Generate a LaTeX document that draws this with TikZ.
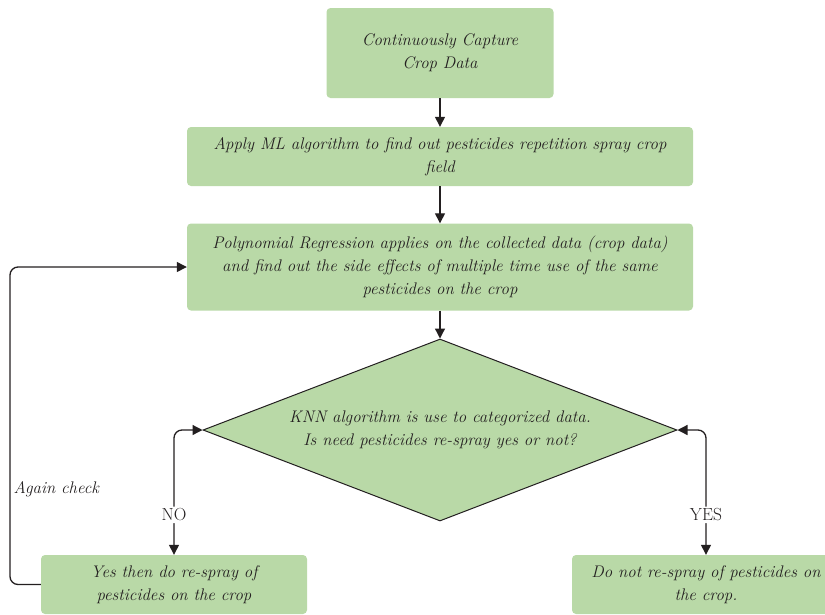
\documentclass[tikz,border=0pt]{standalone}
\usetikzlibrary{shapes.geometric}
\usetikzlibrary{arrows.meta}

\definecolor{leaf}{HTML}{B9D9A7}
\definecolor{ink}{HTML}{231F20}

\tikzset{
  stepbox/.style={rectangle, rounded corners=4pt, fill=leaf, text=ink, align=center,
    inner sep=0pt, font=\fontsize{16.8}{23}\selectfont\itshape},
  choice/.style={diamond, shape aspect=2.6, draw=ink, line width=1pt, fill=leaf, text=ink,
    align=center, inner sep=0pt, font=\fontsize{16.8}{23}\selectfont\itshape},
  flow/.style={draw=ink, line width=1.3pt, rounded corners=8pt,
    -{Triangle[length=10pt,width=10pt]}},
  twoway/.style={flow, {Triangle[length=10pt,width=10pt]}-{Triangle[length=10pt,width=10pt]}},
  tag/.style={fill=white, text=ink, inner sep=2pt, font=\fontsize{17.5}{18}\selectfont},
}

\begin{document}
\begin{tikzpicture}[x=1pt,y=-1pt]
\useasboundingbox (0,0) rectangle (825,614);
\node[stepbox, minimum width=227pt, minimum height=90pt] (capture) at (440,53) {Continuously Capture\\Crop Data};
\node[stepbox, minimum width=506pt, minimum height=59pt] (ml) at (440,156.5) {Apply ML algorithm to find out pesticides repetition spray crop\\field};
\node[stepbox, minimum width=506pt, minimum height=87pt] (poly) at (440,267) {Polynomial Regression applies on the collected data (crop data)\\and find out the side effects of multiple time use of the same\\pesticides on the crop};
\node[choice, minimum width=474pt, minimum height=182pt] (knn) at (440,430) {KNN algorithm is use to categorized data.\\Is need pesticides re-spray yes or not?};
\node[stepbox, minimum width=266pt, minimum height=59pt] (respray) at (174,584.5) {Yes then do re-spray of\\pesticides on the crop};
\node[stepbox, minimum width=268pt, minimum height=59pt] (keep) at (706,584.5) {Do not re-spray of pesticides on\\the crop.};
\coordinate (back) at (10,585);

\draw[flow] (capture) -- (ml);
\draw[flow] (ml) -- (poly);
\draw[flow] (poly) -- (knn);
\draw[twoway] (knn.west) -| node[tag, pos=0.84] {NO} (respray.north);
\draw[twoway] (knn.east) -| node[tag, pos=0.84] {YES} (keep.north);
\draw[flow] (respray.west) -- (respray.west -| back) |- node[pos=0.15, right, inner sep=3pt, text=ink, font=\fontsize{16.8}{23}\selectfont\itshape] {Again check} (poly.west);
\end{tikzpicture}
\end{document}
